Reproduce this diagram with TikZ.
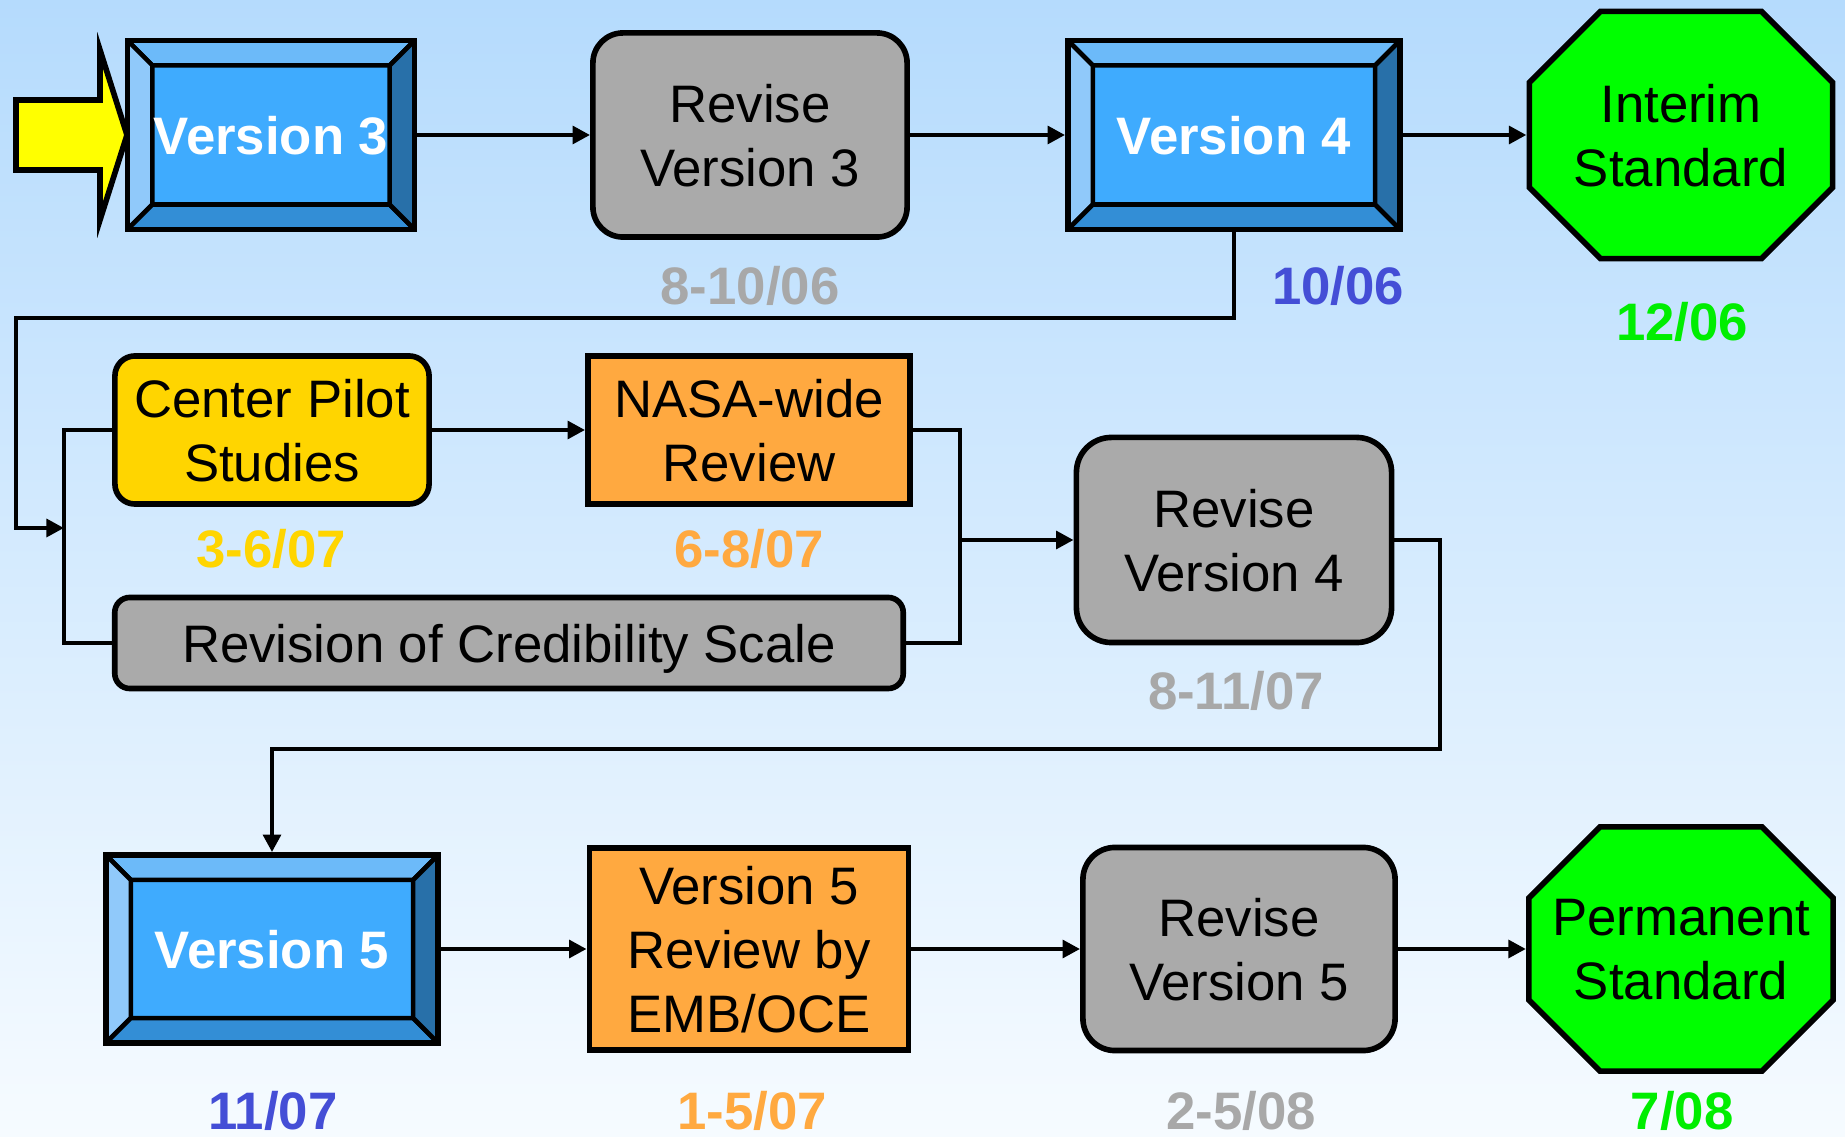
\documentclass[tikz,border=0pt]{standalone}
\usepackage{fontspec}
\setmainfont{Liberation Sans}
\usepackage{tikz}
\usetikzlibrary{arrows.meta}

\definecolor{bgtop}{RGB}{181,219,253}
\definecolor{bgbottom}{RGB}{246,251,255}
\definecolor{bvmid}{RGB}{63,171,254}
\definecolor{bvtop}{RGB}{108,186,249}
\definecolor{bvleft}{RGB}{144,201,250}
\definecolor{bvbottom}{RGB}{51,142,214}
\definecolor{bvright}{RGB}{40,112,169}
\definecolor{boxgray}{RGB}{170,170,170}
\definecolor{datagray}{RGB}{168,168,168}
\definecolor{pilotgold}{RGB}{255,213,0}
\definecolor{revorange}{RGB}{255,169,64}
\definecolor{signgreen}{RGB}{0,255,0}
\definecolor{dategreen}{RGB}{0,238,0}
\definecolor{dateblue}{RGB}{68,78,214}
\definecolor{startyellow}{RGB}{255,255,0}

\tikzset{
    plain/.style={inner sep=0pt, align=center, text depth=-3.8pt, font=\fontsize{15}{18.2}\selectfont},
    graybox/.style={plain, draw, line width=1.6pt, fill=boxgray},
    pilotbox/.style={plain, draw, line width=1.6pt, fill=pilotgold, rounded corners=0.2cm},
    reviewbox/.style={plain, draw, line width=1.6pt, fill=revorange},
    datelabel/.style={inner sep=0pt, font=\fontsize{15}{18.2}\selectfont\bfseries},
    link/.style={line width=1.4pt, -{Triangle[length=5pt, width=5pt]}},
    bracket/.style={line width=1pt},
    bevel/.style={plain, draw, line width=1.6pt, fill=bvmid, text=white, font=\fontsize{15}{18.2}\selectfont\bfseries,
        path picture={
            \coordinate (bnw) at (path picture bounding box.north west);
            \coordinate (bne) at (path picture bounding box.north east);
            \coordinate (bse) at (path picture bounding box.south east);
            \coordinate (bsw) at (path picture bounding box.south west);
            \coordinate (inw) at ([shift={(0.25cm, -0.25cm)}]bnw);
            \coordinate (ine) at ([shift={(-0.25cm, -0.25cm)}]bne);
            \coordinate (ise) at ([shift={(-0.25cm, 0.25cm)}]bse);
            \coordinate (isw) at ([shift={(0.25cm, 0.25cm)}]bsw);
            \draw [line width=1.3pt, fill=bvtop] (bnw) -- (bne) -- (ine) -- (inw) -- cycle;
            \draw [line width=1.3pt, fill=bvleft] (bnw) -- (inw) -- (isw) -- (bsw) -- cycle;
            \draw [line width=1.3pt, fill=bvbottom] (bsw) -- (isw) -- (ise) -- (bse) -- cycle;
            \draw [line width=1.3pt, fill=bvright] (bse) -- (ise) -- (ine) -- (bne) -- cycle;
        }},
    stdsign/.style={plain, outer sep=0pt,
        path picture={
            \draw [line width=1.6pt, fill=signgreen]
                ([shift={(0.74cm, -0.03cm)}]path picture bounding box.north west)
                -- ([shift={(-0.74cm, -0.03cm)}]path picture bounding box.north east)
                -- ([shift={(-0.03cm, -0.74cm)}]path picture bounding box.north east)
                -- ([shift={(-0.03cm, 0.74cm)}]path picture bounding box.south east)
                -- ([shift={(-0.74cm, 0.03cm)}]path picture bounding box.south east)
                -- ([shift={(0.74cm, 0.03cm)}]path picture bounding box.south west)
                -- ([shift={(0.03cm, 0.74cm)}]path picture bounding box.south west)
                -- ([shift={(0.03cm, -0.74cm)}]path picture bounding box.north west)
                -- cycle;
        }}
}

\begin{document}
\begin{tikzpicture}[x=0.01cm, y=-0.01cm]
    \shade [top color=bgtop, bottom color=bgbottom] (0, 0) rectangle (1845, 1137);

    \node [bevel, minimum width=2.87cm, minimum height=1.89cm] (v3) at (271, 135) {Version 3};
    \node [graybox, rounded corners=0.3cm, minimum width=3.14cm, minimum height=2.04cm] (rev3) at (750, 135) {Revise\\Version 3};
    \node [bevel, minimum width=3.32cm, minimum height=1.89cm] (v4) at (1234, 135) {Version 4};
    \node [stdsign, minimum width=3.09cm, minimum height=2.53cm] (interim) at (1681, 135) {Interim\\Standard};

    \node [pilotbox, minimum width=3.14cm, minimum height=1.48cm] (pilot) at (272, 430) {Center Pilot\\Studies};
    \node [reviewbox, minimum width=3.22cm, minimum height=1.48cm] (nasa) at (749, 430) {NASA-wide\\Review};
    \node [graybox, rounded corners=0.15cm, minimum width=7.88cm, minimum height=0.91cm] (cred) at (509, 643) {Revision of Credibility Scale};
    \node [graybox, rounded corners=0.35cm, minimum width=3.15cm, minimum height=2.05cm] (rev4) at (1234, 540) {Revise\\Version 4};

    \node [bevel, minimum width=3.32cm, minimum height=1.88cm] (v5) at (272, 949) {Version 5};
    \node [reviewbox, minimum width=3.19cm, minimum height=2.02cm] (emb) at (749, 949) {Version 5\\Review by\\EMB/OCE};
    \node [graybox, rounded corners=0.32cm, minimum width=3.12cm, minimum height=2.03cm] (rev5) at (1239, 949) {Revise\\Version 5};
    \node [stdsign, minimum width=3.1cm, minimum height=2.5cm] (perm) at (1681, 949) {Permanent\\Standard};

    \draw [line width=1.6pt, fill=startyellow] (16, 100) -- (100, 100) -- (100, 50) -- (127, 135) -- (100, 220) -- (100, 170) -- (16, 170) -- cycle;

    \node [datelabel, text=datagray] (d3) at (750, 286) {8-10/06};
    \node [datelabel, text=dateblue] (d4) at (1338, 286) {10/06};
    \node [datelabel, text=dategreen] (dint) at (1682, 322) {12/06};
    \node [datelabel, text=pilotgold] (dpilot) at (271, 549) {3-6/07};
    \node [datelabel, text=revorange] (dnasa) at (749, 549) {6-8/07};
    \node [datelabel, text=datagray] (drev4) at (1236, 691) {8-11/07};
    \node [datelabel, text=dateblue] (dv5) at (273, 1111) {11/07};
    \node [datelabel, text=revorange] (demb) at (752, 1111) {1-5/07};
    \node [datelabel, text=datagray] (drev5) at (1241, 1111) {2-5/08};
    \node [datelabel, text=dategreen] (dperm) at (1682, 1111) {7/08};

    \coordinate (drop) at (16, 318);
    \coordinate (split) at (64, 528);
    \coordinate (merge) at (960, 540);
    \coordinate (back) at (1440, 749);

    \draw [link] (v3.east) -- (rev3.west);
    \draw [link] (rev3.east) -- (v4.west);
    \draw [link] (v4.east) -- (interim.west);
    \draw [link] (v4.south) |- (drop) |- (split);
    \draw [bracket] (pilot.west) -| (split) |- (cred.west);
    \draw [link] (pilot.east) -- (nasa.west);
    \draw [bracket] (nasa.east) -| (merge) |- (cred.east);
    \draw [link] (merge) -- (rev4.west);
    \draw [link] (rev4.east) -| (back) -| (v5.north);
    \draw [link] (v5.east) -- (emb.west);
    \draw [link] (emb.east) -- (rev5.west);
    \draw [link] (rev5.east) -- (perm.west);
\end{tikzpicture}
\end{document}
